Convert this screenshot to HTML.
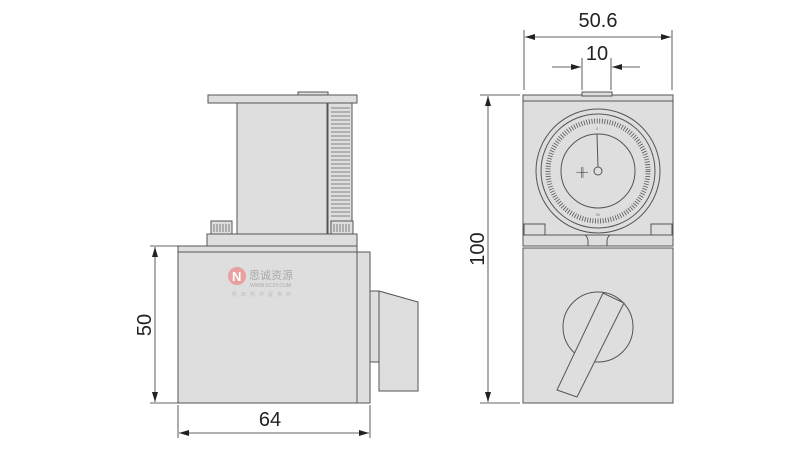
<!DOCTYPE html>
<html><head><meta charset="utf-8"><style>html,body{margin:0;padding:0;background:#fff}svg{display:block}</style></head>
<body>
<svg width="800" height="451" viewBox="0 0 800 451" xmlns="http://www.w3.org/2000/svg" font-family="Liberation Sans, sans-serif">
<defs>
<marker id="a" viewBox="0 0 10 6" refX="10" refY="3" markerWidth="10" markerHeight="6" orient="auto-start-reverse" markerUnits="userSpaceOnUse"><path d="M0,0L10,3L0,6z" fill="#222"/></marker>
</defs>
<g stroke="#555" stroke-width="1" fill="#dedede">
<rect x="208" y="95" width="149" height="8"/>
<rect x="298" y="92" width="30" height="3"/>
<rect x="237" y="103" width="90" height="131"/>
<rect x="328" y="103" width="24" height="131"/>
<rect x="207" y="234" width="150" height="12"/>
<rect x="211" y="221" width="21" height="13"/>
<rect x="331" y="221" width="22" height="13"/>
<rect x="178" y="246" width="179" height="157"/>
<line x1="178" y1="252" x2="357" y2="252"/>
<rect x="357" y="252" width="13" height="151"/>
<rect x="370" y="291" width="9" height="71"/>
<polygon points="379,291 418,302 418,391 379,391"/>
</g>
<g stroke="#666" stroke-width="0.8">
<path d="M331 108H350M331 112H350M331 116H350M331 120H350M331 124H350M331 128H350M331 132H350M331 136H350M331 140H350M331 144H350M331 148H350M331 152H350M331 156H350M331 160H350M331 164H350M331 168H350M331 172H350M331 176H350M331 180H350M331 184H350M331 188H350M331 192H350M331 196H350M331 200H350M331 204H350M331 208H350M331 212H350M331 216H350"/>
<path d="M214 224V232M217 224V232M220 224V232M223 224V232M226 224V232M229 224V232M334 224V232M337 224V232M340 224V232M343 224V232M346 224V232M349 224V232M527 226V233M530 226V233M533 226V233M536 226V233M539 226V233M542 226V233M654 226V233M657 226V233M660 226V233M663 226V233M666 226V233M669 226V233"/>
</g>
<circle cx="237" cy="276" r="9" fill="#e9a0a0"/>
<text x="232" y="281" font-size="13" font-weight="bold" fill="#fff">N</text>
<text x="249" y="279" font-size="11" fill="#aaa" font-family="Liberation Sans, Noto Sans CJK SC, sans-serif">思诚资源</text>
<text x="250" y="287" font-size="5" fill="#aaa">WWW.SCZY.COM</text>
<text x="232" y="296" font-size="5" fill="#bbb" font-family="Liberation Sans, Noto Sans CJK SC, sans-serif" letter-spacing="4">机床附件提供商</text>

<g stroke="#555" stroke-width="1" fill="#dedede">
<rect x="523" y="95" width="150" height="151"/>
<line x1="523" y1="101" x2="673" y2="101"/>
<rect x="582" y="92" width="30" height="4"/>
<line x1="523" y1="235" x2="673" y2="235"/>
<path d="M585 235 Q588 237 588 242 V246 M610 235 Q607 237 607 242 V246" fill="none"/>
<rect x="524" y="224" width="21" height="11"/>
<rect x="651" y="224" width="21" height="11"/>
<rect x="523" y="248" width="150" height="155"/>
<circle cx="598" cy="171" r="62"/>
<circle cx="598" cy="171" r="57"/>
<circle cx="598" cy="171" r="50" fill="none" stroke="#555" stroke-dasharray="0.8 1.8" stroke-width="5"/>
<circle cx="598" cy="171" r="37"/>
<circle cx="598" cy="171" r="4" fill="none"/>
<line x1="598" y1="167" x2="597" y2="134"/>
<circle cx="598" cy="327" r="35"/>
<polygon points="557,390 577,397 624,303 603,293"/>
</g>
<text x="576" y="175" font-size="9" fill="#555">-╫-</text>
<g font-size="3.5" fill="#777"><text x="596" y="130">0</text><text x="596" y="216">50</text></g>

<g stroke="#333" stroke-width="0.8" fill="none">
<line x1="178" y1="246" x2="150" y2="246"/><line x1="178" y1="403" x2="150" y2="403"/>
<line x1="155" y1="247" x2="155" y2="402" marker-start="url(#a)" marker-end="url(#a)"/>
<line x1="178" y1="405" x2="178" y2="438"/><line x1="370" y1="405" x2="370" y2="438"/>
<line x1="179" y1="433" x2="369" y2="433" marker-start="url(#a)" marker-end="url(#a)"/>
<line x1="520" y1="95" x2="480" y2="95"/><line x1="520" y1="403" x2="480" y2="403"/>
<line x1="488" y1="96" x2="488" y2="402" marker-start="url(#a)" marker-end="url(#a)"/>
<line x1="524" y1="30" x2="524" y2="90"/><line x1="672" y1="30" x2="672" y2="90"/>
<line x1="525" y1="37" x2="671" y2="37" marker-start="url(#a)" marker-end="url(#a)"/>
<line x1="582" y1="58" x2="582" y2="90"/><line x1="611" y1="58" x2="611" y2="90"/>
<line x1="552" y1="67" x2="581" y2="67" marker-end="url(#a)"/>
<line x1="640" y1="67" x2="612" y2="67" marker-end="url(#a)"/>
</g>
<g font-size="20" fill="#222">
<text x="270" y="426" text-anchor="middle">64</text>
<text x="598" y="27" text-anchor="middle">50.6</text>
<text x="597" y="60" text-anchor="middle">10</text>
<text transform="translate(151,325) rotate(-90)" text-anchor="middle">50</text>
<text transform="translate(484,249) rotate(-90)" text-anchor="middle">100</text>
</g>
</svg>
</body></html>
